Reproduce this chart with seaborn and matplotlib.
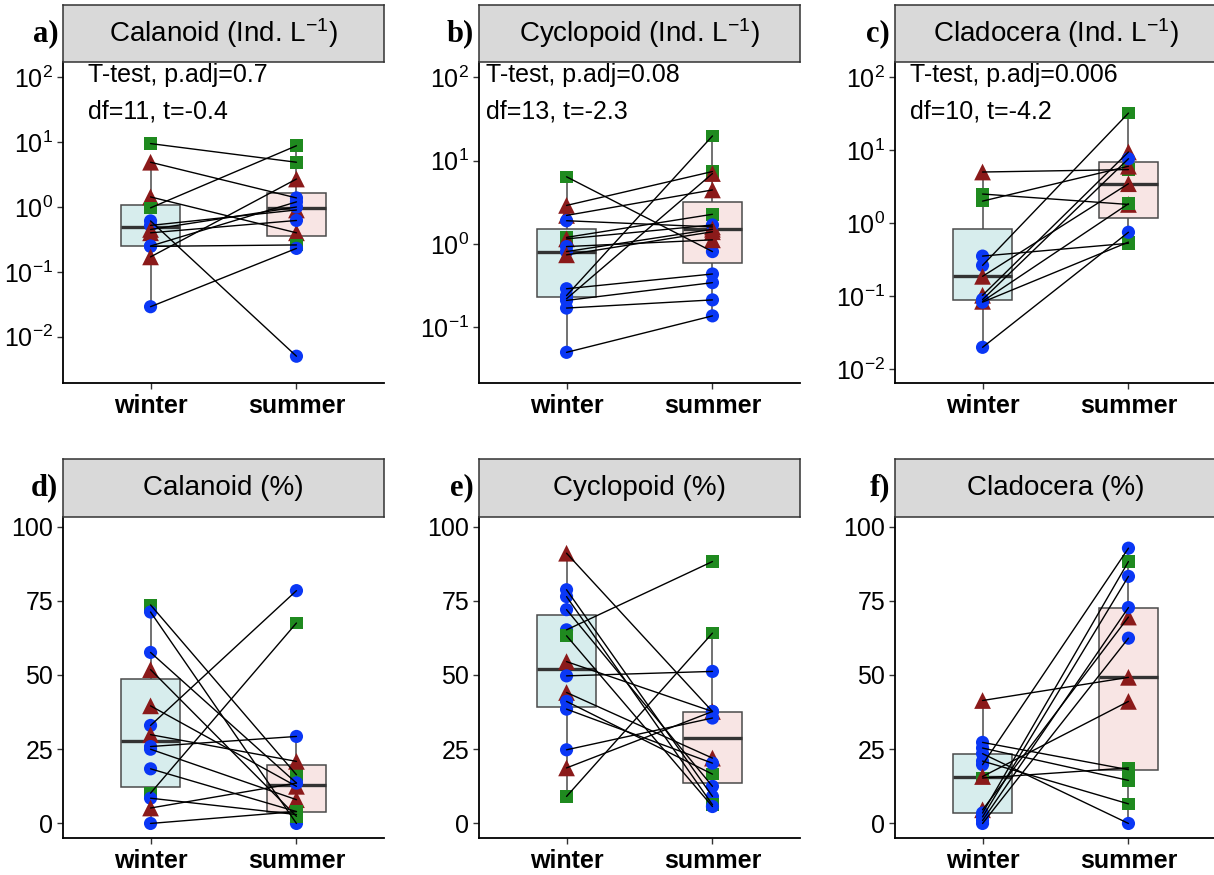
import numpy as np
import pandas as pd
import seaborn as sns
import matplotlib.pyplot as plt
from matplotlib.ticker import FixedLocator, NullLocator, LogFormatterMathtext

sns.set_theme(style='ticks')
plt.rcParams['font.family'] = ['Liberation Sans', 'DejaVu Sans']
plt.rcParams['mathtext.fontset'] = 'custom'
plt.rcParams['mathtext.rm'] = 'Liberation Sans'
plt.rcParams['mathtext.it'] = 'Liberation Sans:italic'
plt.rcParams['mathtext.bf'] = 'Liberation Sans:bold'
plt.rcParams['text.color'] = 'black'

seasons = ['winter', 'summer']

# shapes: C = circle, S = square, T = triangle; winter[i] is paired with summer[i]
# a) Calanoid (Ind. L-1)
cal_abs_w = [9.5, 4.9, 1.43, 0.97, 0.61, 0.52, 0.45, 0.40, 0.247, 0.25, 0.17, 0.029]
cal_abs_w_shape = ['S', 'T', 'T', 'S', 'C', 'C', 'T', 'T', 'C', 'C', 'T', 'C']
cal_abs_s = [4.9, 1.38, 0.40, 8.8, 0.005, 0.9, 1.0, 0.62, 0.26, 1.2, 2.7, 0.23]
cal_abs_s_shape = ['S', 'C', 'T', 'S', 'C', 'T', 'C', 'C', 'S', 'C', 'T', 'C']

# b) Cyclopoid (Ind. L-1)
cyc_abs_w = [6.4, 2.9, 2.2, 1.9, 1.2, 1.15, 0.93, 0.81, 0.74, 0.29, 0.24, 0.22, 0.21, 0.17, 0.05]
cyc_abs_w_shape = ['S', 'T', 'T', 'C', 'S', 'T', 'C', 'C', 'T', 'C', 'C', 'C', 'C', 'C', 'C']
cyc_abs_s = [0.81, 7.4, 4.45, 1.6, 2.27, 1.69, 1.12, 1.5, 1.4, 0.436, 19.8, 7.0, 0.343, 0.213, 0.137]
cyc_abs_s_shape = ['C', 'S', 'T', 'T', 'S', 'C', 'T', 'T', 'T', 'C', 'S', 'T', 'C', 'C', 'C']

# c) Cladocera (Ind. L-1)
cla_abs_w = [5.0, 2.5, 2.0, 0.354, 0.264, 0.187, 0.103, 0.09, 0.085, 0.083, 0.02]
cla_abs_w_shape = ['T', 'S', 'S', 'C', 'C', 'T', 'T', 'C', 'T', 'C', 'C']
cla_abs_s = [5.4, 1.8, 6.0, 0.53, 32.0, 3.46, 9.4, 7.6, 1.84, 0.55, 0.75]
cla_abs_s_shape = ['S', 'T', 'T', 'S', 'S', 'T', 'T', 'C', 'S', 'S', 'C']

# d) Calanoid (%)
cal_pct_w = [73.6, 71.2, 57.6, 51.8, 39.6, 33.0, 29.9, 25.9, 25.0, 18.4, 10.2, 8.5, 5.2, 0.0]
cal_pct_w_shape = ['S', 'C', 'C', 'T', 'T', 'C', 'T', 'C', 'C', 'C', 'S', 'C', 'T', 'C']
cal_pct_s = [16.4, 0.0, 13.6, 2.4, 12.5, 78.4, 20.9, 29.3, 8.0, 4.0, 67.5, 3.0, 13.6, 4.0]
cal_pct_s_shape = ['S', 'C', 'C', 'S', 'T', 'C', 'T', 'C', 'T', 'S', 'S', 'S', 'C', 'S']

# e) Cyclopoid (%)
cyc_pct_w = [91.0, 78.7, 76.4, 72.0, 65.2, 63.2, 54.5, 49.7, 44.1, 41.1, 38.5, 24.8, 18.7, 9.1]
cyc_pct_w_shape = ['T', 'C', 'C', 'C', 'C', 'S', 'T', 'C', 'T', 'C', 'C', 'C', 'T', 'S']
cyc_pct_s = [37.7, 9.1, 6.3, 12.5, 88.2, 5.7, 37.7, 51.2, 22.0, 16.6, 20.3, 35.5, 37.7, 64.1]
cyc_pct_s_shape = ['T', 'C', 'S', 'C', 'S', 'C', 'C', 'C', 'T', 'S', 'C', 'C', 'C', 'S']

# f) Cladocera (%)
cla_pct_w = [41.4, 27.3, 25.4, 23.5, 21.0, 19.8, 15.3, 15.8, 4.6, 3.5, 2.2, 1.0, 0.0]
cla_pct_w_shape = ['T', 'C', 'C', 'C', 'C', 'C', 'S', 'T', 'T', 'C', 'C', 'C', 'C']
cla_pct_s = [49.2, 18.1, 14.5, 0.0, 6.6, 92.7, 18.7, 41.1, 69.5, 88.2, 83.2, 72.7, 62.4]
cla_pct_s_shape = ['T', 'C', 'S', 'C', 'S', 'C', 'S', 'T', 'T', 'S', 'C', 'C', 'C']

titles = ['Calanoid (Ind. L$^{-1}$)', 'Cyclopoid (Ind. L$^{-1}$)', 'Cladocera (Ind. L$^{-1}$)',
          'Calanoid (%)', 'Cyclopoid (%)', 'Cladocera (%)']
letters = ['a)', 'b)', 'c)', 'd)', 'e)', 'f)']
stats_lines = [('T-test, p.adj=0.7', 'df=11, t=-0.4'),
               ('T-test, p.adj=0.08', 'df=13, t=-2.3'),
               ('T-test, p.adj=0.006', 'df=10, t=-4.2')]
log_ticks = [1e-2, 1e-1, 1e0, 1e1, 1e2]
pct_ticks = [0, 25, 50, 75, 100]

box_fill = {'winter': '#D3F1F1', 'summer': '#FBE2E1'}
mark_col = {'C': '#0A37F5', 'S': '#1F8A1F', 'T': '#8B1A1A'}
mark_sym = {'C': 'o', 'S': 's', 'T': '^'}
mark_size = {'C': 90, 'S': 82, 'T': 145}


def make_long(w, ws, s, ss):
    n = len(w)
    df = pd.DataFrame({'pair': list(range(n)) * 2,
                       'season': ['winter'] * n + ['summer'] * n,
                       'value': w + s,
                       'shape': ws + ss})
    df['pos'] = df['season'].map({'winter': 0, 'summer': 1})
    return df


def plot_panel(ax, df, log, ylim, yticks):
    sns.boxplot(data=df, x='season', y='value', hue='season', order=seasons, hue_order=seasons,
                palette=box_fill, width=0.4, showfliers=False, showcaps=False,
                linecolor='#4a4a4a', linewidth=1.1,
                medianprops={'color': '#333333', 'linewidth': 2.4},
                log_scale=True if log else None, legend=False, ax=ax)
    sns.scatterplot(data=df, x='pos', y='value', hue='shape', style='shape', size='shape',
                    palette=mark_col, markers=mark_sym, sizes=mark_size, linewidth=0,
                    legend=False, ax=ax, zorder=3)
    sns.lineplot(data=df, x='pos', y='value', units='pair', estimator=None, color='black',
                 linewidth=1.0, legend=False, ax=ax, zorder=4)

    ax.set_xlim(-0.6, 1.6)
    ax.set_ylim(*ylim)
    ax.set_xticks([0, 1])
    ax.set_xticklabels(seasons, fontsize=20, fontweight='bold')
    ax.yaxis.set_major_locator(FixedLocator(yticks))
    ax.yaxis.set_minor_locator(NullLocator())
    if log:
        ax.yaxis.set_major_formatter(LogFormatterMathtext())
    ax.set_xlabel('')
    ax.set_ylabel('')
    ax.tick_params(axis='both', length=4, width=1, color='#333333', labelsize=18,
                   labelcolor='black', pad=3)
    ax.tick_params(axis='x', pad=4)
    for side in ['top', 'right']:
        ax.spines[side].set_visible(False)
    for side in ['left', 'bottom']:
        ax.spines[side].set_color('black')
        ax.spines[side].set_linewidth(1.3)
    ax.set_facecolor('white')


frames = [make_long(cal_abs_w, cal_abs_w_shape, cal_abs_s, cal_abs_s_shape),
          make_long(cyc_abs_w, cyc_abs_w_shape, cyc_abs_s, cyc_abs_s_shape),
          make_long(cla_abs_w, cla_abs_w_shape, cla_abs_s, cla_abs_s_shape),
          make_long(cal_pct_w, cal_pct_w_shape, cal_pct_s, cal_pct_s_shape),
          make_long(cyc_pct_w, cyc_pct_w_shape, cyc_pct_s, cyc_pct_s_shape),
          make_long(cla_pct_w, cla_pct_w_shape, cla_pct_s, cla_pct_s_shape)]

ylims = [(10 ** -2.714, 10 ** 2.236), (10 ** -1.669, 10 ** 2.184), (10 ** -2.187, 10 ** 2.204),
         (-4.9, 103.2), (-4.9, 103.2), (-4.9, 103.2)]

W, H = 1214, 875
fig = plt.figure(figsize=(W / 100, H / 100), dpi=100)
fig.patch.set_facecolor('white')

col_left = [63, 479, 895]
ax_w = 321
rows = [(62, 383, 5), (517, 838, 459)]  # axes top, axes bottom, strip top (px)
text_off = [25, 7, 15]

for i in range(6):
    r, c = divmod(i, 3)
    top, bot, stop = rows[r]
    left = col_left[c]
    ax = fig.add_axes([left / W, 1 - bot / H, ax_w / W, (bot - top) / H])
    log = r == 0
    plot_panel(ax, frames[i], log, ylims[i], log_ticks if log else pct_ticks)

    sax = fig.add_axes([left / W, 1 - top / H, ax_w / W, (top - stop) / H])
    sax.set_facecolor('#D9D9D9')
    sax.set_xticks([])
    sax.set_yticks([])
    for sp in sax.spines.values():
        sp.set_color('#333333')
        sp.set_linewidth(1.1)
    sax.text(0.5, 0.5, titles[i], ha='center', va='center', fontsize=20, transform=sax.transAxes)
    sax.text(-0.015, 0.5, letters[i], ha='right', va='center', fontsize=22, fontweight='bold',
             family=['Liberation Serif', 'DejaVu Serif'], transform=sax.transAxes)

    if log:
        t1, t2 = stats_lines[c]
        x0 = text_off[c] / ax_w
        ax.text(x0, 1 - 13 / 321, t1, transform=ax.transAxes, ha='left', va='center', fontsize=18)
        ax.text(x0, 1 - 50 / 321, t2, transform=ax.transAxes, ha='left', va='center', fontsize=18)

fig.savefig('out.png', dpi=100, facecolor='white')
